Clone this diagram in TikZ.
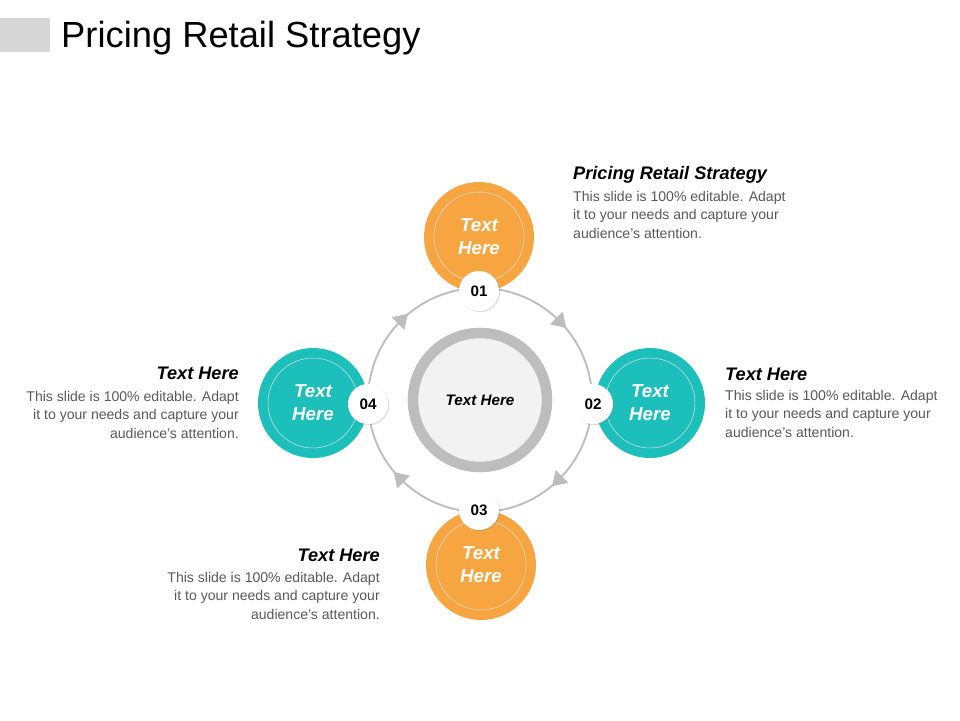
\documentclass[tikz,border=0pt]{standalone}
\usepackage{fontspec}
\setmainfont{Liberation Sans}
\usetikzlibrary{shadows,calc}
\definecolor{org}{HTML}{F7A541}
\definecolor{tea}{HTML}{1CBFBA}
\definecolor{ring}{HTML}{BDBDBD}
\definecolor{body}{HTML}{595959}
\begin{document}
\begin{tikzpicture}[x=0.03cm,y=-0.03cm,
  big/.style={circle,minimum size=3.3cm,inner sep=0pt,text=white,font=\fontsize{16}{19.5}\selectfont\bfseries\itshape,align=center},
  badge/.style={circle,fill=white,minimum size=1.2cm,inner sep=0pt,font=\fontsize{13}{15}\selectfont\bfseries,drop shadow={opacity=0.25,shadow xshift=1pt,shadow yshift=-1pt}},
  head/.style={font=\fontsize{15.5}{18}\selectfont\bfseries\itshape,inner sep=0pt},
  txt/.style={font=\fontsize{12}{15.7}\selectfont,text=body,inner sep=0pt}]
\useasboundingbox (0,0) rectangle (960,720);
\fill[ring!60] (0,18) rectangle (50,52);
\node[anchor=base west,inner sep=0pt,font=\fontsize{31}{35}\selectfont] (title) at (61,47) {Pricing Retail Strategy};
\coordinate (c) at (480,400);
\draw[ring,line width=1.6pt] (c) circle (3.36cm);
\foreach \a in {45,135,225,315}{
  \fill[ring,rotate around={-\a:(c)}] ($(c)+(0,-112)$) ++(-4,-9) -- ++(14,9) -- ++(-14,9) -- cycle;
}
\node[big,fill=org] (n1) at (479,237) {Text\\Here};
\node[big,fill=tea] (n2) at (650,403) {Text\\Here};
\node[big,fill=org] (n3) at (481,565) {Text\\Here};
\node[big,fill=tea] (n4) at (313,403) {Text\\Here};
\foreach \n in {n1,n2,n3,n4} \draw[white!80!gray,line width=0.4pt] (\n) circle (1.35cm);
\node[badge] (b1) at (479,291) {01};
\node[badge] (b2) at (593,404) {02};
\node[badge] (b3) at (479,510) {03};
\node[badge] (b4) at (368,404) {04};
\draw[ring,line width=9pt,fill=black!5] (c) circle (2.01cm);
\node[font=\fontsize{13}{15}\selectfont\bfseries\itshape] (ct) at (c) {Text Here};
\node[head,anchor=base west] (h1) at (573,179) {Pricing Retail Strategy};
\node[txt,anchor=north west,align=left] (t1) at (573,191) {This slide is 100\% editable. Adapt\\it to your needs and capture your\\audience's attention.};
\node[head,anchor=base west] (h2) at (725,380) {Text Here};
\node[txt,anchor=north west,align=left] (t2) at (725,390) {This slide is 100\% editable. Adapt\\it to your needs and capture your\\audience's attention.};
\node[head,anchor=base east] (h4) at (239,379) {Text Here};
\node[txt,anchor=north east,align=right] (t4) at (239,391) {This slide is 100\% editable. Adapt\\it to your needs and capture your\\audience's attention.};
\node[head,anchor=base east] (h3) at (380,561) {Text Here};
\node[txt,anchor=north east,align=right] (t3) at (380,572) {This slide is 100\% editable. Adapt\\it to your needs and capture your\\audience's attention.};
\end{tikzpicture}
\end{document}
